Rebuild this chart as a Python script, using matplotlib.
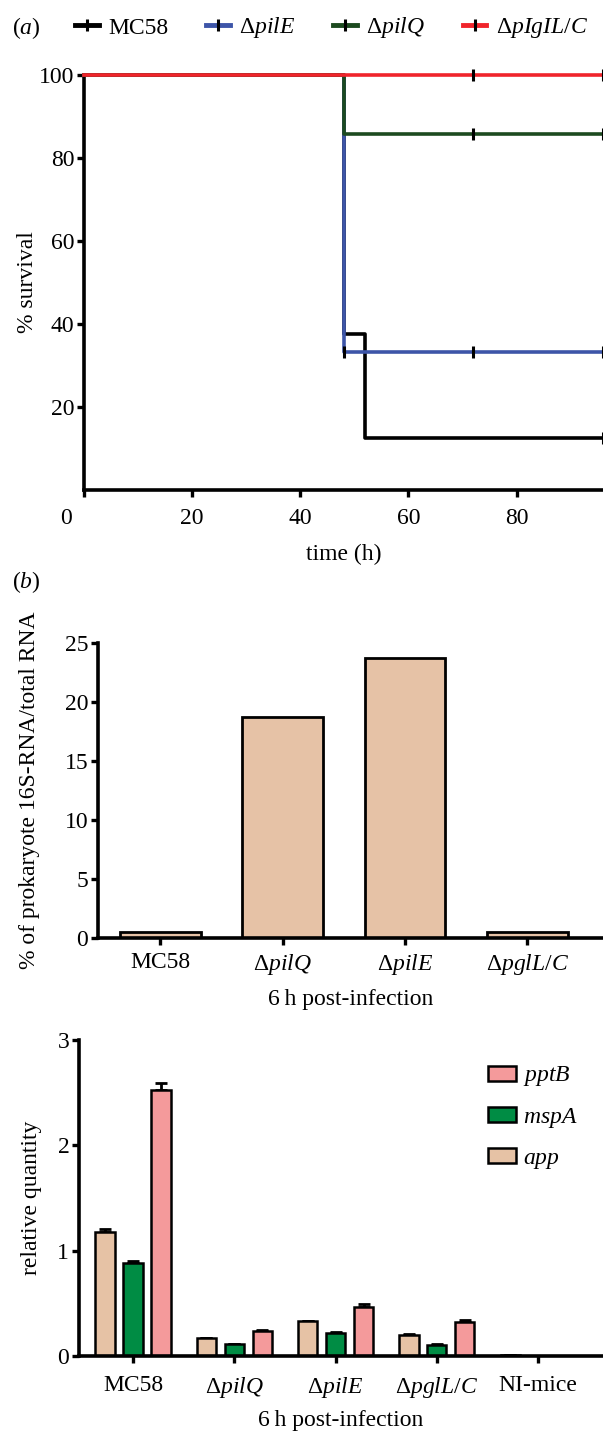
import matplotlib
matplotlib.use("Agg")
import matplotlib.pyplot as plt
from matplotlib.lines import Line2D
import numpy as np

plt.rcParams['font.family'] = 'Liberation Serif'
plt.rcParams['mathtext.fontset'] = 'custom'
plt.rcParams['mathtext.rm'] = 'Liberation Serif'
plt.rcParams['mathtext.it'] = 'Liberation Serif:italic'
plt.rcParams['font.size'] = 17

# ---- panel (a): survival curves ----
surv_labels = ['MC58', r'$\Delta\mathit{pilE}$', r'$\Delta\mathit{pilQ}$', r'$\Delta\mathit{pIgIL/C}$']
surv_colors = ['black', '#3d55a8', '#1c4a1f', '#f0242b']
surv_times = [[0, 48, 52, 96], [0, 48, 96], [0, 48, 96], [0, 96]]
surv_values = [[100, 37.5, 12.5, 12.5], [100, 33.3, 33.3], [100, 85.7, 85.7], [100, 100]]
censor_times = [[96], [48, 72, 96], [72, 96], [72, 96]]
censor_values = [[12.5], [33.3, 33.3, 33.3], [85.7, 85.7], [100, 100]]

# ---- panel (b): 16S RNA ----
strains_b = ['MC58', r'$\Delta\mathit{pilQ}$', r'$\Delta\mathit{pilE}$', r'$\Delta\mathit{pglL/C}$']
rna_16s = [0.5, 18.7, 23.7, 0.5]

# ---- panel (c): relative quantity ----
strains_c = ['MC58', r'$\Delta\mathit{pilQ}$', r'$\Delta\mathit{pilE}$', r'$\Delta\mathit{pglL/C}$', 'NI-mice']
genes = ['app', 'mspA', 'pptB']
gene_colors = ['#e6c2a5', '#008c44', '#f49a9b']
rel_qty = {
    'app': [1.18, 0.17, 0.33, 0.20, 0.01],
    'mspA': [0.88, 0.11, 0.22, 0.105, 0.0],
    'pptB': [2.53, 0.235, 0.465, 0.325, 0.0],
}
rel_err = {
    'app': [0.03, 0.005, 0.005, 0.01, 0.0],
    'mspA': [0.02, 0.005, 0.005, 0.01, 0.0],
    'pptB': [0.06, 0.015, 0.025, 0.02, 0.0],
}

fig = plt.figure(figsize=(6.03, 14.31), dpi=100)
W, H = 603.0, 1431.0

def style_axes(ax):
    for s in ['top', 'right']:
        ax.spines[s].set_visible(False)
    for s in ['left', 'bottom']:
        ax.spines[s].set_linewidth(2.6)
    ax.tick_params(width=2.4, length=5, direction='out', pad=2, labelsize=17)

# panel a
ax1 = fig.add_axes([84 / W, 1 - 490 / H, 1 - 84 / W, (490 - 75) / H])
for t, v, c, lab in zip(surv_times, surv_values, surv_colors, surv_labels):
    ax1.step(t, v, where='post', color=c, lw=2.6, label=lab, clip_on=False, zorder=3)
for ct, cv in zip(censor_times, censor_values):
    ax1.plot(ct, cv, ls='none', marker='|', ms=8, mew=2.2, color='black', clip_on=False, zorder=4)
ax1.set_xlim(0, 96)
ax1.set_ylim(0, 100)
ax1.set_xticks([0, 20, 40, 60, 80])
ax1.set_xticklabels(['', '20', '40', '60', '80'])
ax1.set_yticks([20, 40, 60, 80, 100])
style_axes(ax1)
ax1.tick_params(axis='x', pad=8)
# the "0" label sits left of the y axis in the original
ax1.annotate('0', xy=(0, 0), xycoords=('data', 'axes fraction'), xytext=(-13, -13),
             textcoords='offset points', ha='center', va='top', fontsize=17)
ax1.set_xlabel('time (h)', fontsize=17, labelpad=11)
ax1.set_ylabel('% survival', fontsize=17)
ax1.yaxis.set_label_coords(-0.088, 0.5)

handles = [Line2D([0], [0], color=c, lw=3.5, marker='|', ms=9, mew=2.2, mec='black') for c in surv_colors]
fig.legend(handles, surv_labels, loc='center left', bbox_to_anchor=(54 / W, 1 - 28 / H), ncol=4,
           frameon=False, fontsize=17, handlelength=1.0, handletextpad=0.4, columnspacing=1.6)
fig.text(12 / W, 1 - 28 / H, r'($\mathit{a}$)', fontsize=17, va='center')

# panel b
ax2 = fig.add_axes([98 / W, 1 - 938 / H, 1 - 98 / W, (938 - 643) / H])
xb = np.arange(len(strains_b))
ax2.bar(xb, rna_16s, width=0.66, color='#e6c2a6', edgecolor='black', linewidth=2)
ax2.set_xlim(-0.51, 3.62)
ax2.set_ylim(0, 25)
ax2.set_xticks(xb)
ax2.set_xticklabels(strains_b)
ax2.set_yticks([0, 5, 10, 15, 20, 25])
style_axes(ax2)
ax2.tick_params(axis='x', pad=5)
ax2.set_xlabel('6\u2009h post-infection', fontsize=17, labelpad=9)
ax2.set_ylabel('% of prokaryote 16S-RNA/total RNA', fontsize=17)
ax2.yaxis.set_label_coords(-0.115, 0.5)
fig.text(12 / W, 1 - 582 / H, r'($\mathit{b}$)', fontsize=17, va='center')

# panel c
ax3 = fig.add_axes([79 / W, 1 - 1356 / H, 1 - 79 / W, (1356 - 1040) / H])
xc = np.arange(len(strains_c))
pitch = 0.276
for i, g in enumerate(genes):
    ax3.bar(xc + (i - 1) * pitch, rel_qty[g], width=0.19, color=gene_colors[i], edgecolor='black',
            linewidth=1.8, label=r'$\mathit{%s}$' % g, zorder=2)
    err = np.array(rel_err[g])
    ax3.errorbar(xc + (i - 1) * pitch, rel_qty[g], yerr=[np.zeros_like(err), err], fmt='none',
                 ecolor='black', elinewidth=2, capsize=4, capthick=2, zorder=1)
ax3.set_xlim(-0.533, 4.64)
ax3.set_ylim(0, 3)
ax3.set_xticks(xc)
ax3.set_xticklabels(strains_c)
ax3.set_yticks([0, 1, 2, 3])
style_axes(ax3)
ax3.tick_params(axis='x', pad=9)
ax3.set_xlabel('6\u2009h post-infection', fontsize=17, labelpad=7)
ax3.set_ylabel('relative quantity', fontsize=17)
ax3.yaxis.set_label_coords(-0.07, 0.5)
h, l = ax3.get_legend_handles_labels()
ax3.legend(h[::-1], l[::-1], loc='upper left', bbox_to_anchor=(0.74, 0.99), frameon=False,
           fontsize=17, handlelength=1.2, handleheight=0.6, handletextpad=0.3, labelspacing=0.75)

fig.savefig('out.png', dpi=100)
